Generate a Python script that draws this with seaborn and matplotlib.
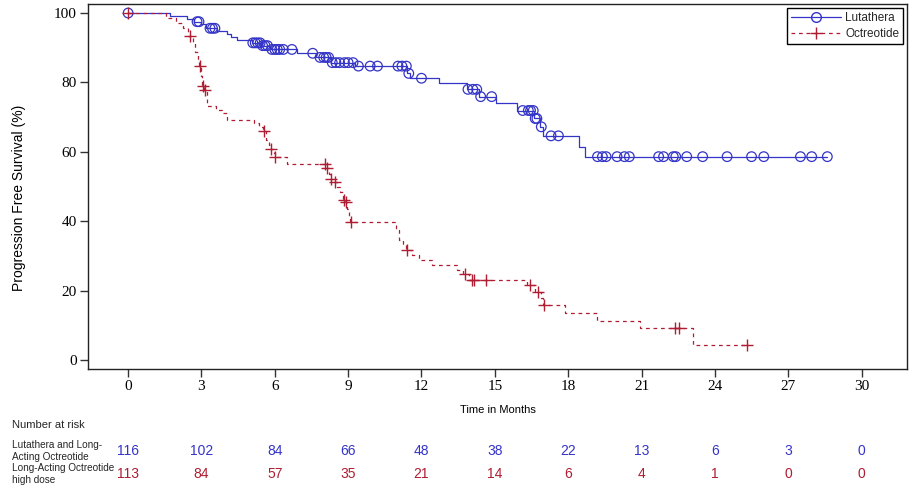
import numpy as np
import matplotlib
matplotlib.use("Agg")
import matplotlib.pyplot as plt
from matplotlib.lines import Line2D
from matplotlib.transforms import blended_transform_factory
import pandas as pd
import seaborn as sns

BLUE = "#3434C8"
RED = "#B01C32"

# Lutathera: step curve (month where the curve drops, PFS % after the drop)
lut_time = [0, 1.7, 2.4, 2.7, 3.0, 3.2, 3.65, 4.05, 4.2, 4.45, 5.08, 5.45, 5.8,
            6.9, 7.7, 8.28, 9.3, 11.42, 11.55, 12.7, 13.85, 14.35, 15.05, 15.9,
            16.6, 16.85, 16.95, 18.46, 18.7, 28.6]
lut_pfs = [100, 99.2, 98.3, 97.5, 96.7, 95.6, 94.8, 93.9, 93.2, 92.2, 91.4, 90.6, 89.5,
           88.4, 87.2, 85.7, 84.7, 82.6, 81.2, 79.7, 78.0, 75.9, 74.2, 71.9,
           69.6, 67.2, 64.6, 61.5, 58.6, 58.6]
# Lutathera: censored observations (months)
lut_censor = [0, 2.82, 2.9, 3.35, 3.45, 3.55, 5.1, 5.2, 5.3, 5.4, 5.5, 5.6, 5.7,
              5.88, 6.0, 6.1, 6.2, 6.35, 6.7, 7.55, 7.85, 8.0, 8.1, 8.2, 8.35, 8.5,
              8.65, 8.85, 9.0, 9.2, 9.42, 9.9, 10.2, 11.04, 11.2, 11.38, 11.48, 12.0,
              13.9, 14.1, 14.26, 14.42, 14.87, 16.14, 16.37, 16.46, 16.57, 16.65,
              16.72, 16.9, 17.3, 17.6, 19.2, 19.4, 19.55, 20.0, 20.3, 20.5, 21.7,
              21.9, 22.3, 22.4, 22.85, 23.5, 24.5, 25.5, 26.0, 27.5, 27.96, 28.6]

# Octreotide: step curve
oct_time = [0, 1.55, 1.95, 2.25, 2.45, 2.65, 2.75, 2.85, 2.9, 2.97, 3.02, 3.1, 3.22,
            3.6, 3.85, 4.05, 5.15, 5.35, 5.5, 5.65, 5.75, 5.8, 5.95, 6.0, 6.5,
            8.1, 8.2, 8.27, 8.4, 8.55, 8.65, 8.78, 8.88, 8.95, 9.02, 9.08,
            10.95, 11.1, 11.25, 11.35, 11.6, 11.9, 12.45, 13.47, 13.7, 13.95,
            16.3, 16.65, 16.88, 16.97, 17.87, 19.17, 20.94, 23.12, 25.3]
oct_pfs = [100, 98.5, 97.0, 95.8, 93.4, 91.5, 88.7, 86.0, 84.8, 81.8, 79.0, 77.8, 73.2,
           72.0, 71.1, 69.2, 68.2, 67.1, 66.0, 63.5, 61.9, 60.8, 59.7, 58.6, 56.4,
           55.2, 53.6, 52.1, 51.4, 49.9, 48.4, 46.1, 45.5, 43.5, 41.6, 39.7,
           37.5, 34.6, 33.0, 31.7, 30.3, 28.8, 27.4, 25.9, 24.8, 23.05,
           21.6, 19.7, 17.8, 15.85, 13.4, 11.3, 9.1, 4.3, 4.3]
oct_censor = [0, 2.54, 2.92, 3.05, 3.15, 5.54, 5.83, 6.02, 8.06, 8.15, 8.29, 8.47,
              8.83, 8.9, 9.12, 11.42, 13.78, 14.06, 14.15, 14.64, 16.44, 16.78,
              17.01, 22.37, 22.54, 25.3]

risk_months = [0, 3, 6, 9, 12, 15, 18, 21, 24, 27, 30]
lut_risk = [116, 102, 84, 66, 48, 38, 22, 13, 6, 3, 0]
oct_risk = [113, 84, 57, 35, 21, 14, 6, 4, 1, 0, 0]

y_ticks = [0, 20, 40, 60, 80, 100]


def on_curve(times, values, points):
    idx = np.searchsorted(times, points, side="right") - 1
    return np.asarray(values)[idx]


def main() -> None:
    sns.set_theme(style="white")
    plt.rcParams["font.family"] = ["Liberation Sans", "DejaVu Sans"]
    serif = ["Liberation Serif", "DejaVu Serif"]

    fig = plt.figure(figsize=(9.15, 4.88), dpi=100)
    ax = fig.add_axes([0.0962, 0.2439, 0.8951, 0.7479])

    lut_df = pd.DataFrame({"month": lut_time, "pfs": lut_pfs})
    oct_df = pd.DataFrame({"month": oct_time, "pfs": oct_pfs})

    sns.lineplot(data=lut_df, x="month", y="pfs", drawstyle="steps-post", color=BLUE,
                 lw=0.9, estimator=None, sort=False, ax=ax)
    sns.lineplot(data=oct_df, x="month", y="pfs", drawstyle="steps-post", color=RED,
                 lw=0.9, linestyle=(0, (3, 3)), estimator=None, sort=False, ax=ax)

    sns.scatterplot(x=lut_censor, y=on_curve(lut_time, lut_pfs, lut_censor), marker="o",
                    s=48, color=BLUE, facecolor="none", edgecolor=BLUE, linewidth=0.9,
                    ax=ax, zorder=3)
    sns.scatterplot(x=oct_censor, y=on_curve(oct_time, oct_pfs, oct_censor), marker="+",
                    s=70, color=RED, linewidth=1.0, ax=ax, zorder=4)

    ax.set_xlim(-1.64, 31.86)
    ax.set_ylim(-2.6, 102.6)
    ax.set_xticks(risk_months)
    ax.set_yticks(y_ticks)
    ax.set_xticklabels([str(m) for m in risk_months], fontfamily=serif, fontsize=11)
    ax.set_yticklabels([str(v) for v in y_ticks], fontfamily=serif, fontsize=11)
    ax.tick_params(direction="out", length=5.5, width=1, color="#333333", pad=2.5,
                   bottom=True, left=True, labelcolor="black")
    for sp in ax.spines.values():
        sp.set_visible(True)
        sp.set_color("#222222")
        sp.set_linewidth(1)

    ax.set_xlabel("Time in Months", fontsize=8, color="black")
    ax.xaxis.set_label_coords(0.5, -0.1)
    ax.set_ylabel("Progression Free Survival (%)", fontsize=10, color="black")
    ax.yaxis.set_label_coords(-0.076, 0.47)

    handles = [
        Line2D([], [], color=BLUE, lw=0.9, marker="o", mfc="none", mec=BLUE, ms=7,
               label="Lutathera"),
        Line2D([], [], color=RED, lw=0.9, ls=(0, (3, 3)), marker="+", ms=9,
               label="Octreotide"),
    ]
    leg = ax.legend(handles=handles, loc="upper right", frameon=True, fancybox=False,
                    edgecolor="black", framealpha=1, handlelength=4.2, numpoints=1,
                    prop={"family": "Liberation Sans", "size": 8.5}, borderaxespad=0.3,
                    borderpad=0.35, labelspacing=0.35, handletextpad=0.4)
    leg.get_frame().set_linewidth(1)

    # number at risk table
    trans = blended_transform_factory(ax.transData, fig.transFigure)
    fig.text(0.013, 1 - 425 / 488, "Number at risk", fontsize=8, va="center", ha="left")
    fig.text(0.013, 1 - 451 / 488, "Lutathera and Long-\nActing Octreotide", fontsize=7.2,
             va="center", ha="left", linespacing=1.25)
    fig.text(0.013, 1 - 474 / 488, "Long-Acting Octreotide\nhigh dose", fontsize=7.2,
             va="center", ha="left", linespacing=1.25)
    for m, n in zip(risk_months, lut_risk):
        ax.text(m, 1 - 451 / 488, str(n), transform=trans, color=BLUE, fontsize=10,
                ha="center", va="center")
    for m, n in zip(risk_months, oct_risk):
        ax.text(m, 1 - 474 / 488, str(n), transform=trans, color=RED, fontsize=10,
                ha="center", va="center")

    fig.savefig("out.png", dpi=100)
    plt.close(fig)


if __name__ == "__main__":
    main()
